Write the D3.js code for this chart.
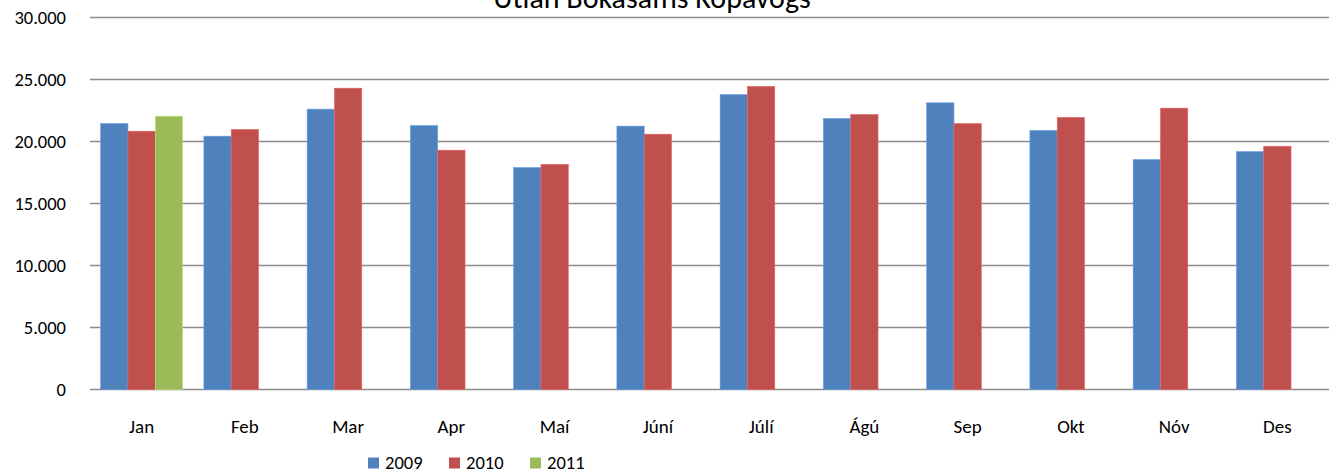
<!DOCTYPE html>
<html>
<head>
<meta charset="utf-8">
<script src="https://cdn.jsdelivr.net/npm/d3@7"></script>
<style>
  body { margin: 0; background: #fff; }
  text { font-family: Carlito, Calibri, Lato, sans-serif; fill: #000; }
</style>
</head>
<body>
<svg id="chart" width="1342" height="475"></svg>
<script>
// data
const months = ["Jan", "Feb", "Mar", "Apr", "Maí", "Júní", "Júlí", "Ágú", "Sep", "Okt", "Nóv", "Des"];
const years = ["2009", "2010", "2011"];
const v2009 = [21450, 20430, 22610, 21290, 17900, 21240, 23790, 21860, 23120, 20890, 18550, 19190];
const v2010 = [20830, 20970, 24300, 19300, 18150, 20590, 24440, 22180, 21450, 21940, 22690, 19620];
const v2011 = [22040, null, null, null, null, null, null, null, null, null, null, null];
const yTicks = [0, 5000, 10000, 15000, 20000, 25000, 30000];
const colors = ["#4F81BD", "#C0504D", "#9BBB59"];
const title = "Útlán Bókasafns Kópavogs";

const svg = d3.select("#chart");
const margin = { top: 17.5, right: 13, bottom: 85.5, left: 90 };
const width = 1342 - margin.left - margin.right;
const height = 475 - margin.top - margin.bottom;

const g = svg.append("g").attr("transform", `translate(${margin.left},${margin.top})`);

const x0 = d3.scaleBand().domain(months).range([0, width]).paddingInner(0.206).paddingOuter(0.103);
const x1 = d3.scaleBand().domain(years).range([0, x0.bandwidth()]);
const y = d3.scaleLinear().domain([0, 30000]).range([height, 0]);

const fmt = d => d3.format(",")(d).replace(/,/g, ".");

// gridlines
g.append("g")
  .selectAll("line")
  .data(yTicks)
  .join("line")
  .attr("x1", 0)
  .attr("x2", width)
  .attr("y1", d => y(d))
  .attr("y2", d => y(d))
  .attr("stroke", "#8c8c8c")
  .attr("stroke-width", 1.6);

// y labels
g.append("g")
  .selectAll("text")
  .data(yTicks)
  .join("text")
  .attr("x", -24)
  .attr("y", d => y(d))
  .attr("dy", "0.35em")
  .attr("text-anchor", "end")
  .attr("font-size", 18.5)
  .text(d => fmt(d));

// bars
const series = [v2009, v2010, v2011];
const rows = [];
months.forEach((m, i) => {
  years.forEach((yr, j) => {
    if (series[j][i] != null) rows.push({ month: m, year: yr, value: series[j][i], color: colors[j] });
  });
});

g.append("g")
  .selectAll("rect")
  .data(rows)
  .join("rect")
  .attr("x", d => x0(d.month) + x1(d.year))
  .attr("y", d => y(d.value))
  .attr("width", x1.bandwidth())
  .attr("height", d => height - y(d.value))
  .attr("fill", d => d.color)
  .attr("stroke", d => d3.color(d.color).brighter(0.6))
  .attr("stroke-width", 0.6);

// x labels
g.append("g")
  .selectAll("text")
  .data(months)
  .join("text")
  .attr("x", d => x0(d) + x0.bandwidth() / 2)
  .attr("y", height + 43)
  .attr("text-anchor", "middle")
  .attr("font-size", 19)
  .text(d => d);

// title (cut off at the top, as in the original)
svg.append("text")
  .attr("x", 652)
  .attr("y", 8)
  .attr("text-anchor", "middle")
  .attr("font-size", 30)
  .text(title);

// legend
const legendX = [368, 449, 530];
const legend = svg.append("g")
  .selectAll("g")
  .data(years)
  .join("g")
  .attr("transform", (d, i) => `translate(${legendX[i]}, 463)`);

legend.append("rect")
  .attr("x", 0)
  .attr("y", -5.5)
  .attr("width", 11)
  .attr("height", 11)
  .attr("fill", (d, i) => colors[i]);

legend.append("text")
  .attr("x", 17)
  .attr("y", 0)
  .attr("dy", "0.35em")
  .attr("font-size", 18.5)
  .text(d => d);
</script>
</body>
</html>
